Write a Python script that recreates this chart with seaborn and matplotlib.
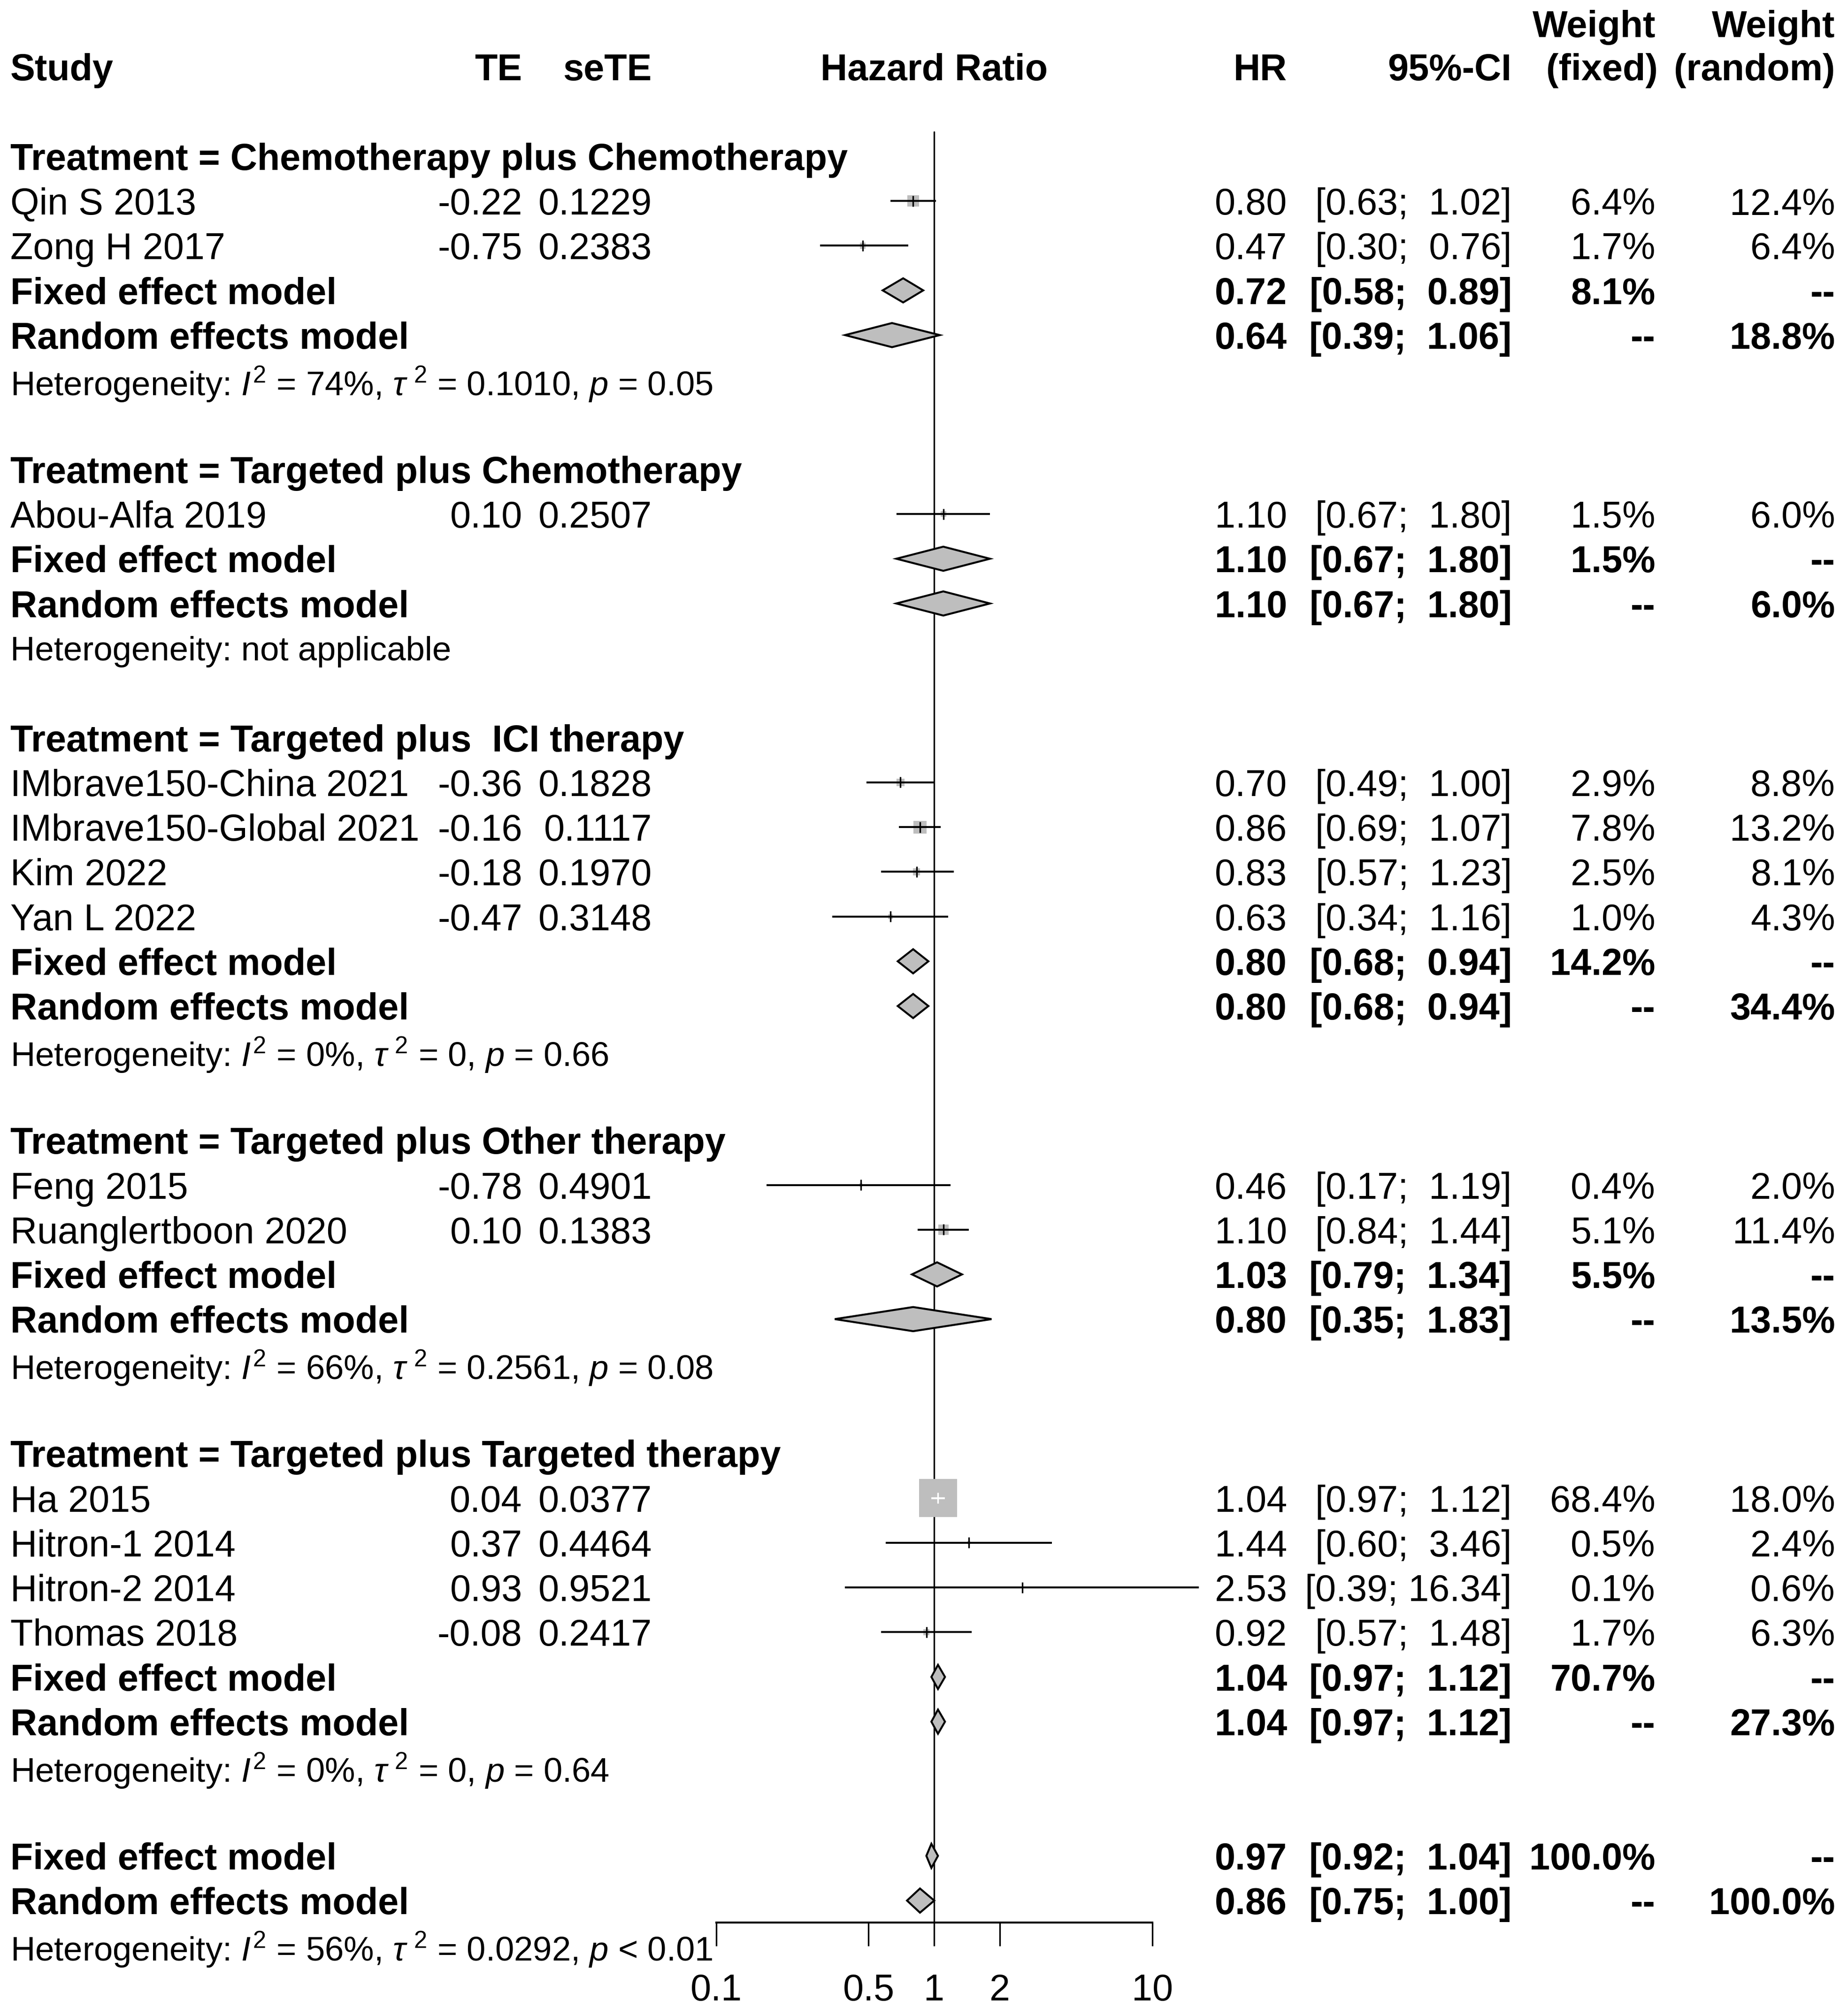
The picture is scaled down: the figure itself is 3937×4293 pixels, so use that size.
import numpy as np
import pandas as pd
import matplotlib
matplotlib.use("Agg")
import matplotlib.pyplot as plt
import seaborn as sns
from matplotlib.ticker import NullLocator

# subgroup data
groups = ["Chemotherapy plus Chemotherapy", "Targeted plus Chemotherapy",
          "Targeted plus  ICI therapy", "Targeted plus Other therapy",
          "Targeted plus Targeted therapy"]

study_names = ["Qin S 2013", "Zong H 2017", "Abou-Alfa 2019",
               "IMbrave150-China 2021", "IMbrave150-Global 2021", "Kim 2022", "Yan L 2022",
               "Feng 2015", "Ruanglertboon 2020",
               "Ha 2015", "Hitron-1 2014", "Hitron-2 2014", "Thomas 2018"]
study_group = [0, 0, 1, 2, 2, 2, 2, 3, 3, 4, 4, 4, 4]
te = [-0.22, -0.75, 0.10, -0.36, -0.16, -0.18, -0.47, -0.78, 0.10, 0.04, 0.37, 0.93, -0.08]
sete = [0.1229, 0.2383, 0.2507, 0.1828, 0.1117, 0.1970, 0.3148, 0.4901, 0.1383, 0.0377, 0.4464, 0.9521, 0.2417]
hr = [0.80, 0.47, 1.10, 0.70, 0.86, 0.83, 0.63, 0.46, 1.10, 1.04, 1.44, 2.53, 0.92]
ci_low = [0.63, 0.30, 0.67, 0.49, 0.69, 0.57, 0.34, 0.17, 0.84, 0.97, 0.60, 0.39, 0.57]
ci_up = [1.02, 0.76, 1.80, 1.00, 1.07, 1.23, 1.16, 1.19, 1.44, 1.12, 3.46, 16.34, 1.48]
w_fixed = [6.4, 1.7, 1.5, 2.9, 7.8, 2.5, 1.0, 0.4, 5.1, 68.4, 0.5, 0.1, 1.7]
w_random = [12.4, 6.4, 6.0, 8.8, 13.2, 8.1, 4.3, 2.0, 11.4, 18.0, 2.4, 0.6, 6.3]

# pooled estimates per subgroup
fixed_hr = [0.72, 1.10, 0.80, 1.03, 1.04]
fixed_low = [0.58, 0.67, 0.68, 0.79, 0.97]
fixed_up = [0.89, 1.80, 0.94, 1.34, 1.12]
fixed_w = [8.1, 1.5, 14.2, 5.5, 70.7]
random_hr = [0.64, 1.10, 0.80, 0.80, 1.04]
random_low = [0.39, 0.67, 0.68, 0.35, 0.97]
random_up = [1.06, 1.80, 0.94, 1.83, 1.12]
random_w = [18.8, 6.0, 34.4, 13.5, 27.3]
het_i2 = ["74%", None, "0%", "66%", "0%"]
het_tau2 = ["0.1010", None, "0", "0.2561", "0"]
het_p = ["= 0.05", None, "= 0.66", "= 0.08", "= 0.64"]

# overall
overall_fixed = [0.97, 0.92, 1.04, 100.0]
overall_random = [0.86, 0.75, 1.00, 100.0]
overall_het = ["56%", "0.0292", "< 0.01"]

ticks = [0.1, 0.5, 1, 2, 10]
tick_labels = ["0.1", "0.5", "1", "2", "10"]

# layout (reference pixel units, 1440 wide)
W_REF, H_REF = 1440, 1570
Y0, DY = 52, 34.85
X_STUDY, X_TE, X_SETE, X_HR, X_CI, X_WF, X_WR, X_NULL = 8, 407, 508, 1003, 1178, 1290, 1430, 728
PX_DEC = 170
FS, FS_HET = 19, 17.4
FONT = "Liberation Sans"
GRAY = "#BEBEBE"

sns.set_theme(style="white")
plt.rcParams["font.family"] = [FONT, "DejaVu Sans"]
plt.rcParams["mathtext.fontset"] = "custom"
plt.rcParams["mathtext.rm"] = FONT
plt.rcParams["mathtext.it"] = FONT + ":italic"
plt.rcParams["mathtext.bf"] = FONT + ":bold"

fig = plt.figure(figsize=(3937 / 300, 4293 / 300), dpi=300)
ylim = ((H_REF - Y0) / DY, -Y0 / DY)
ax_t = fig.add_axes([0, 0, 1, 1])
ax_t.set_xlim(0, W_REF)
ax_t.set_ylim(*ylim)
ax_t.axis("off")

fx0, fx1 = 540, 960
ax_f = fig.add_axes([fx0 / W_REF, 0, (fx1 - fx0) / W_REF, 1])
ax_f.set_xscale("log")
xmin, xmax = 10 ** ((fx0 - X_NULL) / PX_DEC), 10 ** ((fx1 - X_NULL) / PX_DEC)
ax_f.set_xlim(xmin, xmax)
ax_f.set_ylim(*ylim)
ax_f.patch.set_alpha(0)


def txt(x, row, s, ha="right", bold=False, size=FS):
    ax_t.text(x, row, s, ha=ha, va="center_baseline", fontsize=size,
              fontweight="bold" if bold else "normal", color="black")


def ci_str(lo, up):
    pad = " " if up < 10 else ""
    return f"[{lo:.2f}; {pad}{up:.2f}]"


def het_str(i2, t2, p):
    if i2 is None:
        return "Heterogeneity: not applicable"
    return rf"Heterogeneity: $I^2$ = {i2}, $\tau^{{\ 2}}$ = {t2}, $p$ {p}"


# header
txt(X_STUDY, 0, "Study", ha="left", bold=True)
txt(X_TE, 0, "TE", bold=True)
txt(X_SETE, 0, "seTE", bold=True)
txt(X_NULL, 0, "Hazard Ratio", ha="center", bold=True)
txt(X_HR, 0, "HR", bold=True)
txt(X_CI, 0, "95%-CI", bold=True)
txt(X_WF, -0.97, "Weight", bold=True)
txt(X_WF + 2, 0, "(fixed)", bold=True)
txt(X_WR, -0.97, "Weight", bold=True)
txt(X_WR, 0, "(random)", bold=True)

study_rows = []
pooled = []  # (row, est, lo, up)
row = 2
for g, gname in enumerate(groups):
    txt(X_STUDY, row, f"Treatment = {gname}", ha="left", bold=True)
    row += 1
    for i in [k for k, sg in enumerate(study_group) if sg == g]:
        study_rows.append(row)
        txt(X_STUDY, row, study_names[i], ha="left")
        txt(X_TE, row, f"{te[i]:.2f}")
        txt(X_SETE, row, f"{sete[i]:.4f}")
        txt(X_HR, row, f"{hr[i]:.2f}")
        txt(X_CI, row, ci_str(ci_low[i], ci_up[i]))
        txt(X_WF, row, f"{w_fixed[i]:.1f}%")
        txt(X_WR, row, f"{w_random[i]:.1f}%")
        row += 1
    for label, est, lo, up, wf, wr in [
            ("Fixed effect model", fixed_hr[g], fixed_low[g], fixed_up[g], f"{fixed_w[g]:.1f}%", "--"),
            ("Random effects model", random_hr[g], random_low[g], random_up[g], "--", f"{random_w[g]:.1f}%")]:
        txt(X_STUDY, row, label, ha="left", bold=True)
        txt(X_HR, row, f"{est:.2f}", bold=True)
        txt(X_CI, row, ci_str(lo, up), bold=True)
        txt(X_WF, row, wf, bold=True)
        txt(X_WR, row, wr, bold=True)
        pooled.append((row, est, lo, up))
        row += 1
    txt(X_STUDY, row, het_str(het_i2[g], het_tau2[g], het_p[g]), ha="left", size=FS_HET)
    row += 2

# overall
for label, vals, wf, wr in [("Fixed effect model", overall_fixed, f"{overall_fixed[3]:.1f}%", "--"),
                            ("Random effects model", overall_random, "--", f"{overall_random[3]:.1f}%")]:
    txt(X_STUDY, row, label, ha="left", bold=True)
    txt(X_HR, row, f"{vals[0]:.2f}", bold=True)
    txt(X_CI, row, ci_str(vals[1], vals[2]), bold=True)
    txt(X_WF, row, wf, bold=True)
    txt(X_WR, row, wr, bold=True)
    pooled.append((row, vals[0], vals[1], vals[2]))
    row += 1
txt(X_STUDY, row, het_str(*overall_het[:2], overall_het[2]), ha="left", size=FS_HET)
axis_row = row - 0.51

# study squares, sized by fixed weight (area ~ weight)
df = pd.DataFrame({"hr": hr, "row": study_rows, "w": w_fixed, "lo": ci_low, "up": ci_up})
s_max = 19.4 ** 2
sns.scatterplot(data=df, x="hr", y="row", size="w", sizes=(0, s_max), size_norm=(0, max(w_fixed)),
                marker="s", color=GRAY, linewidth=0, legend=False, ax=ax_f, zorder=2)

# CI lines: white when fully inside the square
ax_w_pts = fig.get_figwidth() * 72 * (fx1 - fx0) / W_REF
side_log = np.sqrt(s_max * df["w"] / max(w_fixed)) / ax_w_pts * np.log10(xmax / xmin)
inside = np.log10(df["up"] / df["lo"]) < side_log
colors = np.where(inside, "white", "black")
ax_f.hlines(df["row"], df["lo"], df["up"], colors=colors, lw=1.0, zorder=3)
ax_f.scatter(df["hr"], df["row"], marker="|", s=5.5 ** 2, c=colors, linewidths=0.8, zorder=4)

# diamonds
h = 0.27
for r, est, lo, up in pooled:
    ax_f.fill([lo, est, up, est], [r, r - h, r, r + h], facecolor=GRAY, edgecolor="black",
              lw=1.0, zorder=3)

# null line
ax_f.plot([1, 1], [1.46, axis_row], color="black", lw=0.8, zorder=1)

# x axis
for side in ["left", "right", "top"]:
    ax_f.spines[side].set_visible(False)
ax_f.spines["bottom"].set_position(("data", axis_row))
ax_f.spines["bottom"].set_bounds(ticks[0], ticks[-1])
ax_f.spines["bottom"].set_linewidth(1.0)
ax_f.spines["bottom"].set_color("black")
ax_f.set_xticks(ticks)
ax_f.set_xticklabels(tick_labels)
ax_f.xaxis.set_minor_locator(NullLocator())
ax_f.set_yticks([])
ax_f.tick_params(axis="x", direction="out", length=12, width=0.8, pad=14, labelsize=FS,
                 colors="black", bottom=True)
ax_f.set_xlabel("")
ax_f.set_ylabel("")

fig.savefig("out.png", dpi=300)
